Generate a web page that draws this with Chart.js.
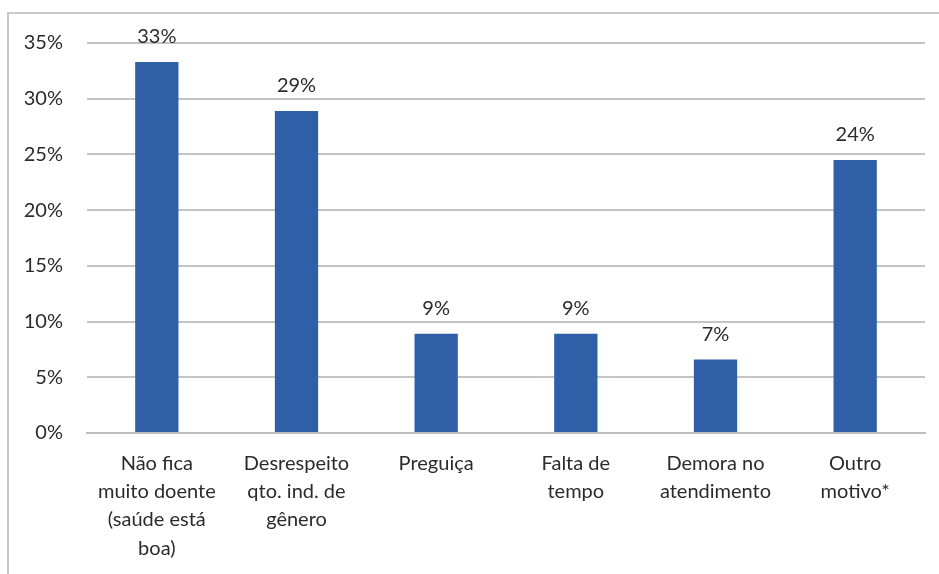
<!DOCTYPE html>
<html>
<head>
<meta charset="utf-8">
<script src="https://cdn.jsdelivr.net/npm/chart.js@4/dist/chart.umd.min.js"></script>
<style>
  html, body { margin: 0; padding: 0; background: #fff; }
  #wrap { position: relative; width: 939px; height: 574px; overflow: hidden; }
  #frame {
    position: absolute; left: 7px; top: 12px; width: 960px; height: 600px;
    border-left: 2px solid #c9c9c9; border-top: 2px solid #c9c9c9;
  }
  canvas { position: absolute; left: 0; top: 0; }
</style>
</head>
<body>
<div id="wrap">
  <div id="frame"></div>
  <canvas id="chart" width="939" height="574"></canvas>
</div>
<script>
// Motivos (categorias do eixo x)
const categories = [
    ['Não fica', 'muito doente', '(saúde está', 'boa)'],
    ['Desrespeito', 'qto. ind. de', 'gênero'],
    ['Preguiça'],
    ['Falta de', 'tempo'],
    ['Demora no', 'atendimento'],
    ['Outro', 'motivo*']
];
// Percentuais
const values = [33.3, 28.9, 8.9, 8.9, 6.6, 24.5];
const valueLabels = ['33%', '29%', '9%', '9%', '7%', '24%'];
const yTicks = [0, 5, 10, 15, 20, 25, 30, 35];

const textColor = '#2b2b2b';
const fontFamily = 'Lato, "Open Sans", sans-serif';

// Simple value labels above bars (no datalabels plugin available)
const barLabels = {
    id: 'barLabels',
    afterDatasetsDraw(chart) {
        const ctx = chart.ctx;
        const meta = chart.getDatasetMeta(0);
        ctx.save();
        ctx.fillStyle = textColor;
        ctx.font = '20px ' + fontFamily;
        ctx.textAlign = 'center';
        ctx.textBaseline = 'bottom';
        meta.data.forEach((bar, i) => {
            ctx.fillText(valueLabels[i], bar.x, bar.y - 15);
        });
        ctx.restore();
    }
};

new Chart(document.getElementById('chart'), {
    type: 'bar',
    data: {
        labels: categories,
        datasets: [{
            data: values,
            backgroundColor: '#2f5fa6',
            categoryPercentage: 1,
            barPercentage: 0.31
        }]
    },
    options: {
        responsive: false,
        animation: false,
        layout: { padding: { left: 0, right: 14, top: 43, bottom: 0 } },
        plugins: {
            legend: { display: false },
            tooltip: { enabled: false }
        },
        scales: {
            x: {
                grid: { display: false, drawTicks: false },
                border: { color: '#bdbdbd', width: 2 },
                ticks: {
                    color: textColor,
                    font: { family: fontFamily, size: 20, lineHeight: 1.42 },
                    padding: 16,
                    maxRotation: 0,
                    autoSkip: false
                },
                afterFit(axis) { axis.height = 141; }
            },
            y: {
                min: 0,
                max: 35,
                afterBuildTicks(axis) { axis.ticks = yTicks.map(v => ({ value: v })); },
                grid: { color: '#c4c4c4', lineWidth: 2, drawTicks: false },
                border: { display: false },
                ticks: {
                    color: textColor,
                    font: { family: fontFamily, size: 20 },
                    padding: 24,
                    callback: v => v + '%'
                },
                afterFit(axis) { axis.width = 87; }
            }
        }
    },
    plugins: [barLabels]
});
</script>
</body>
</html>
